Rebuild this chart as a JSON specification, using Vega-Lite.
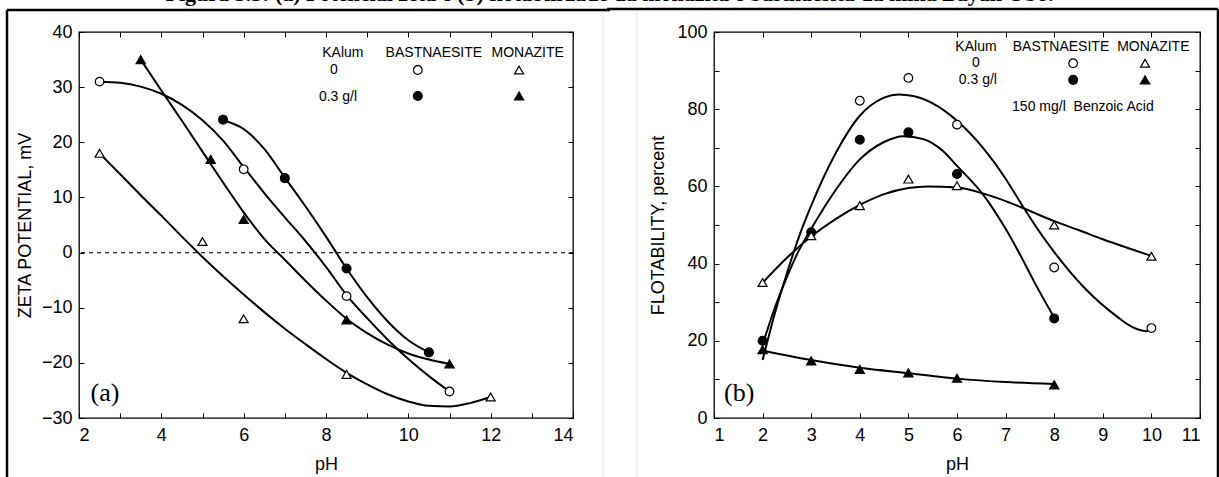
{
  "$schema": "https://vega.github.io/schema/vega-lite/v6.json",
  "autosize": {"type": "none"},
  "padding": {"left": 79, "top": 32, "right": 1140, "bottom": 445},
  "spacing": -7,
  "title": {
    "text": "Figura 3.5: (a) Potencial zeta e (b) flotabilidade da monazita e bastnaesita da mina Bayan Obo.",
    "frame": "bounds", "anchor": "middle", "font": "Liberation Serif", "fontSize": 22,
    "fontWeight": "bold", "baseline": "bottom", "offset": 0, "dy": 21, "dx": -3, "color": "#000"
  },
  "config": {
    "view": {"stroke": "#000", "strokeWidth": 1.3},
    "axis": {
      "labelFont": "Liberation Sans", "labelFontSize": 18, "labelColor": "#000",
      "titleFont": "Liberation Sans", "titleFontSize": 18, "titleFontWeight": "normal", "titleColor": "#000",
      "tickColor": "#000", "tickWidth": 1, "tickSize": -5, "grid": false, "domain": false
    },
    "text": {"font": "Liberation Sans", "fontSize": 14, "color": "#000"},
    "line": {"color": "#000", "strokeWidth": 2},
    "rule": {"color": "#000"}
  },
  "datasets": {
    "one": [{}],
    "a_pts": [
      {"pH": 2.5, "v": 31, "s": "B0"}, {"pH": 6, "v": 15.1, "s": "B0"}, {"pH": 8.5, "v": -7.9, "s": "B0"}, {"pH": 11, "v": -25.2, "s": "B0"},
      {"pH": 5.5, "v": 24.1, "s": "B03"}, {"pH": 7, "v": 13.5, "s": "B03"}, {"pH": 8.5, "v": -2.9, "s": "B03"}, {"pH": 10.5, "v": -18.1, "s": "B03"},
      {"pH": 2.5, "v": 18, "s": "M0"}, {"pH": 5, "v": 2, "s": "M0"}, {"pH": 6, "v": -12, "s": "M0"}, {"pH": 8.5, "v": -22.1, "s": "M0"}, {"pH": 12, "v": -26.2, "s": "M0"},
      {"pH": 3.5, "v": 35, "s": "M03"}, {"pH": 5.2, "v": 16.9, "s": "M03"}, {"pH": 6, "v": 6, "s": "M03"}, {"pH": 8.5, "v": -12.2, "s": "M03"}, {"pH": 11, "v": -20.2, "s": "M03"}
    ],
    "a_curves": [
      {"pH": 2.5, "v": 31.0, "s": "B0"}, {"pH": 3, "v": 30.8, "s": "B0"}, {"pH": 3.5, "v": 30.1, "s": "B0"}, {"pH": 4, "v": 28.8, "s": "B0"}, {"pH": 4.5, "v": 26.8, "s": "B0"}, {"pH": 5, "v": 24.0, "s": "B0"}, {"pH": 5.5, "v": 20.3, "s": "B0"}, {"pH": 6, "v": 15.5, "s": "B0"}, {"pH": 6.5, "v": 10.8, "s": "B0"}, {"pH": 7, "v": 6.4, "s": "B0"}, {"pH": 7.5, "v": 2.1, "s": "B0"}, {"pH": 8, "v": -2.6, "s": "B0"}, {"pH": 8.5, "v": -7.7, "s": "B0"}, {"pH": 9, "v": -11.9, "s": "B0"}, {"pH": 9.5, "v": -15.8, "s": "B0"}, {"pH": 10, "v": -19.3, "s": "B0"}, {"pH": 10.5, "v": -22.4, "s": "B0"}, {"pH": 11, "v": -25.2, "s": "B0"},
      {"pH": 5.5, "v": 24.0, "s": "B03"}, {"pH": 6, "v": 22.4, "s": "B03"}, {"pH": 6.5, "v": 18.8, "s": "B03"}, {"pH": 7, "v": 13.6, "s": "B03"}, {"pH": 7.5, "v": 8.4, "s": "B03"}, {"pH": 8, "v": 2.9, "s": "B03"}, {"pH": 8.5, "v": -2.9, "s": "B03"}, {"pH": 9, "v": -8.1, "s": "B03"}, {"pH": 9.5, "v": -12.5, "s": "B03"}, {"pH": 10, "v": -15.9, "s": "B03"}, {"pH": 10.5, "v": -18.1, "s": "B03"},
      {"pH": 2.5, "v": 18, "s": "M0"}, {"pH": 3, "v": 14.2, "s": "M0"}, {"pH": 3.5, "v": 10.4, "s": "M0"}, {"pH": 4, "v": 6.7, "s": "M0"}, {"pH": 4.5, "v": 2.9, "s": "M0"}, {"pH": 5, "v": -0.8, "s": "M0"}, {"pH": 5.5, "v": -4.3, "s": "M0"}, {"pH": 6, "v": -7.6, "s": "M0"}, {"pH": 6.5, "v": -10.8, "s": "M0"}, {"pH": 7, "v": -13.8, "s": "M0"}, {"pH": 7.5, "v": -16.6, "s": "M0"}, {"pH": 8, "v": -19.3, "s": "M0"}, {"pH": 8.5, "v": -21.8, "s": "M0"}, {"pH": 9, "v": -23.9, "s": "M0"}, {"pH": 9.5, "v": -25.7, "s": "M0"}, {"pH": 10, "v": -27.0, "s": "M0"}, {"pH": 10.5, "v": -27.8, "s": "M0"}, {"pH": 11, "v": -27.9, "s": "M0"}, {"pH": 11.5, "v": -27.3, "s": "M0"}, {"pH": 12, "v": -26.2, "s": "M0"},
      {"pH": 3.5, "v": 35, "s": "M03"}, {"pH": 4, "v": 29.4, "s": "M03"}, {"pH": 4.5, "v": 23.9, "s": "M03"}, {"pH": 5, "v": 18.3, "s": "M03"}, {"pH": 5.5, "v": 12.7, "s": "M03"}, {"pH": 6, "v": 7.3, "s": "M03"}, {"pH": 6.5, "v": 2.5, "s": "M03"}, {"pH": 7, "v": -1.3, "s": "M03"}, {"pH": 7.5, "v": -5.1, "s": "M03"}, {"pH": 8, "v": -8.7, "s": "M03"}, {"pH": 8.5, "v": -12.0, "s": "M03"}, {"pH": 9, "v": -14.6, "s": "M03"}, {"pH": 9.5, "v": -16.7, "s": "M03"}, {"pH": 10, "v": -18.3, "s": "M03"}, {"pH": 10.5, "v": -19.4, "s": "M03"}, {"pH": 11, "v": -20.2, "s": "M03"}
    ],
    "a_legsym": [
      {"pH": 10.23, "v": 33.1, "s": "B0"}, {"pH": 10.23, "v": 28.4, "s": "B03"},
      {"pH": 12.69, "v": 33.1, "s": "M0"}, {"pH": 12.69, "v": 28.4, "s": "M03"}
    ],
    "a_legtxt": [
      {"pH": 8.41, "v": 36.2, "t": "KAlum"}, {"pH": 8.19, "v": 33.1, "t": "0"}, {"pH": 8.29, "v": 28.3, "t": "0.3 g/l"},
      {"pH": 10.62, "v": 36.2, "t": "BASTNAESITE"}, {"pH": 12.9, "v": 36.2, "t": "MONAZITE"}
    ],
    "a_lab": [{"pH": 2.63, "v": -25.5, "t": "(a)"}],
    "b_pts": [
      {"pH": 4, "v": 82.2, "s": "B0"}, {"pH": 5, "v": 88.1, "s": "B0"}, {"pH": 6, "v": 76, "s": "B0"}, {"pH": 8, "v": 39, "s": "B0"}, {"pH": 10, "v": 23.3, "s": "B0"},
      {"pH": 2, "v": 20, "s": "B03"}, {"pH": 3, "v": 48.1, "s": "B03"}, {"pH": 4, "v": 72.1, "s": "B03"}, {"pH": 5, "v": 74, "s": "B03"}, {"pH": 6, "v": 63.2, "s": "B03"}, {"pH": 8, "v": 25.8, "s": "B03"},
      {"pH": 2, "v": 35.1, "s": "M0"}, {"pH": 3, "v": 47.2, "s": "M0"}, {"pH": 4, "v": 55, "s": "M0"}, {"pH": 5, "v": 61.9, "s": "M0"}, {"pH": 6, "v": 60.2, "s": "M0"}, {"pH": 8, "v": 50, "s": "M0"}, {"pH": 10, "v": 41.9, "s": "M0"},
      {"pH": 2, "v": 17.7, "s": "M03"}, {"pH": 3, "v": 14.8, "s": "M03"}, {"pH": 4, "v": 12.6, "s": "M03"}, {"pH": 5, "v": 11.7, "s": "M03"}, {"pH": 6, "v": 10.3, "s": "M03"}, {"pH": 8, "v": 8.6, "s": "M03"}
    ],
    "b_curves": [
      {"pH": 2, "v": 15, "s": "B0"}, {"pH": 2.25, "v": 27, "s": "B0"}, {"pH": 2.5, "v": 37.5, "s": "B0"}, {"pH": 2.75, "v": 47, "s": "B0"}, {"pH": 3, "v": 55, "s": "B0"}, {"pH": 3.5, "v": 68.5, "s": "B0"}, {"pH": 4, "v": 78.3, "s": "B0"}, {"pH": 4.5, "v": 83, "s": "B0"}, {"pH": 4.8, "v": 83.8, "s": "B0"}, {"pH": 5.1, "v": 83.4, "s": "B0"}, {"pH": 5.5, "v": 81.5, "s": "B0"}, {"pH": 6, "v": 77, "s": "B0"}, {"pH": 6.5, "v": 70.5, "s": "B0"}, {"pH": 7, "v": 62, "s": "B0"}, {"pH": 7.32, "v": 55.5, "s": "B0"}, {"pH": 7.64, "v": 49.3, "s": "B0"}, {"pH": 8, "v": 43, "s": "B0"}, {"pH": 8.6, "v": 34, "s": "B0"}, {"pH": 9.3, "v": 26.2, "s": "B0"}, {"pH": 9.6, "v": 23.6, "s": "B0"}, {"pH": 9.9, "v": 22.5, "s": "B0"}, {"pH": 10, "v": 23.3, "s": "B0"},
      {"pH": 2, "v": 19, "s": "B03"}, {"pH": 2.25, "v": 28.5, "s": "B03"}, {"pH": 2.5, "v": 36.5, "s": "B03"}, {"pH": 2.75, "v": 43.5, "s": "B03"}, {"pH": 3, "v": 49, "s": "B03"}, {"pH": 3.5, "v": 59, "s": "B03"}, {"pH": 4, "v": 67, "s": "B03"}, {"pH": 4.5, "v": 71.5, "s": "B03"}, {"pH": 4.9, "v": 73, "s": "B03"}, {"pH": 5.3, "v": 72.3, "s": "B03"}, {"pH": 5.7, "v": 69.3, "s": "B03"}, {"pH": 6, "v": 65.3, "s": "B03"}, {"pH": 6.53, "v": 58, "s": "B03"}, {"pH": 7, "v": 49, "s": "B03"}, {"pH": 7.32, "v": 41.8, "s": "B03"}, {"pH": 7.6, "v": 35, "s": "B03"}, {"pH": 8, "v": 26, "s": "B03"},
      {"pH": 2, "v": 35, "s": "M0"}, {"pH": 2.5, "v": 41.5, "s": "M0"}, {"pH": 3, "v": 47, "s": "M0"}, {"pH": 3.5, "v": 51.5, "s": "M0"}, {"pH": 4, "v": 55.2, "s": "M0"}, {"pH": 4.5, "v": 58, "s": "M0"}, {"pH": 5, "v": 59.6, "s": "M0"}, {"pH": 5.4, "v": 60, "s": "M0"}, {"pH": 6, "v": 59.7, "s": "M0"}, {"pH": 6.53, "v": 58.2, "s": "M0"}, {"pH": 7, "v": 56.2, "s": "M0"}, {"pH": 7.32, "v": 54.6, "s": "M0"}, {"pH": 8, "v": 51, "s": "M0"}, {"pH": 8.5, "v": 48.7, "s": "M0"}, {"pH": 9, "v": 46.3, "s": "M0"}, {"pH": 9.5, "v": 44.1, "s": "M0"}, {"pH": 10, "v": 42, "s": "M0"},
      {"pH": 2, "v": 17.5, "s": "M03"}, {"pH": 3, "v": 15, "s": "M03"}, {"pH": 4, "v": 13, "s": "M03"}, {"pH": 5, "v": 11.6, "s": "M03"}, {"pH": 6, "v": 10.2, "s": "M03"}, {"pH": 7, "v": 9.3, "s": "M03"}, {"pH": 8, "v": 8.8, "s": "M03"}
    ],
    "b_legsym": [
      {"pH": 8.39, "v": 91.9, "s": "B0"}, {"pH": 8.39, "v": 87.6, "s": "B03"},
      {"pH": 9.87, "v": 91.9, "s": "M0"}, {"pH": 9.87, "v": 87.6, "s": "M03"}
    ],
    "b_legtxt": [
      {"pH": 6.39, "v": 96.0, "t": "KAlum"}, {"pH": 6.39, "v": 91.9, "t": "0"}, {"pH": 6.43, "v": 87.6, "t": "0.3 g/l"},
      {"pH": 8.14, "v": 96.0, "t": "BASTNAESITE"}, {"pH": 10.04, "v": 96.0, "t": "MONAZITE"},
      {"pH": 8.59, "v": 80.5, "t": "150 mg/l\u00a0 Benzoic Acid"}
    ],
    "b_lab": [{"pH": 1.52, "v": 6.6, "t": "(b)"}]
  },
  "hconcat": [
    {
      "width": 494, "height": 386,
      "resolve": {"axis": {"x": "independent", "y": "independent"}},
      "layer": [
        {"data": {"name": "one"}, "mark": {"type": "rule", "strokeWidth": 2.5},
         "encoding": {"x": {"datum": 0.251, "type": "quantitative", "scale": {"domain": [2, 14], "nice": false, "zero": false}, "axis": null},
                      "y": {"datum": 43.99, "type": "quantitative", "scale": {"domain": [-30, 40], "nice": false, "zero": false}, "axis": null},
                      "y2": {"datum": -47}}},
        {"data": {"name": "one"}, "mark": {"type": "rule", "strokeWidth": 2.5},
         "encoding": {"x": {"datum": 0.251, "type": "quantitative", "scale": {"domain": [2, 14], "nice": false, "zero": false}, "axis": null},
                      "x2": {"datum": 14.9},
                      "y": {"datum": 43.99, "type": "quantitative", "scale": {"domain": [-30, 40], "nice": false, "zero": false}, "axis": null}}},
        {"data": {"name": "one"}, "mark": {"type": "rule", "strokeWidth": 1, "color": "#e6e6e6"},
         "encoding": {"x": {"datum": 14.73, "type": "quantitative", "scale": {"domain": [2, 14], "nice": false, "zero": false}, "axis": null},
                      "y": {"datum": 43.6, "type": "quantitative", "scale": {"domain": [-30, 40], "nice": false, "zero": false}, "axis": null},
                      "y2": {"datum": -47}}},
        {"data": {"name": "one"}, "mark": {"type": "rule", "strokeWidth": 1.3, "strokeDash": [4, 4], "color": "#222"},
         "encoding": {"y": {"datum": 0, "type": "quantitative", "scale": {"domain": [-30, 40], "nice": false, "zero": false}, "axis": null}}},
        {"data": {"name": "a_curves"},
         "mark": {"type": "line", "interpolate": "monotone", "strokeWidth": 2, "color": "#000"},
         "encoding": {
           "x": {"field": "pH", "type": "quantitative", "scale": {"domain": [2, 14], "nice": false, "zero": false},
                 "axis": {"orient": "bottom", "values": [2, 3, 4, 5, 6, 7, 8, 9, 10, 11, 12, 13, 14], "labelExpr": "datum.value % 2 == 0 ? datum.label : ''", "labelPadding": 13, "title": "pH", "titlePadding": 11}},
           "y": {"field": "v", "type": "quantitative", "scale": {"domain": [-30, 40], "nice": false, "zero": false},
                 "axis": {"orient": "left", "values": [-30, -20, -10, 0, 10, 20, 30, 40], "labelPadding": 12, "title": "ZETA POTENTIAL, mV", "titlePadding": 7}},
           "detail": {"field": "s", "type": "nominal"}
         }},
        {"data": {"name": "a_pts"},
         "mark": {"type": "point", "stroke": "#000", "strokeWidth": 1.2, "opacity": 1, "fillOpacity": 1},
         "encoding": {
           "x": {"field": "pH", "type": "quantitative", "scale": {"domain": [2, 14], "nice": false, "zero": false}, "axis": null},
           "y": {"field": "v", "type": "quantitative", "scale": {"domain": [-30, 40], "nice": false, "zero": false}, "axis": null},
           "shape": {"field": "s", "type": "nominal", "scale": {"domain": ["B0", "B03", "M0", "M03"], "range": ["circle", "circle", "triangle-up", "triangle-up"]}, "legend": null},
           "fill": {"field": "s", "type": "nominal", "scale": {"domain": ["B0", "B03", "M0", "M03"], "range": ["#ffffff", "#000000", "#ffffff", "#000000"]}, "legend": null},
           "size": {"field": "s", "type": "ordinal", "scale": {"domain": ["B0", "B03", "M0", "M03"], "range": [75, 85, 55, 85]}, "legend": null}
         }},
        {"data": {"name": "a_legsym"},
         "mark": {"type": "point", "stroke": "#000", "strokeWidth": 1.2, "opacity": 1, "fillOpacity": 1},
         "encoding": {
           "x": {"field": "pH", "type": "quantitative", "scale": {"domain": [2, 14], "nice": false, "zero": false}, "axis": null},
           "y": {"field": "v", "type": "quantitative", "scale": {"domain": [-30, 40], "nice": false, "zero": false}, "axis": null},
           "shape": {"field": "s", "type": "nominal", "scale": {"domain": ["B0", "B03", "M0", "M03"], "range": ["circle", "circle", "triangle-up", "triangle-up"]}, "legend": null},
           "fill": {"field": "s", "type": "nominal", "scale": {"domain": ["B0", "B03", "M0", "M03"], "range": ["#ffffff", "#000000", "#ffffff", "#000000"]}, "legend": null},
           "size": {"field": "s", "type": "ordinal", "scale": {"domain": ["B0", "B03", "M0", "M03"], "range": [75, 85, 55, 85]}, "legend": null}
         }},
        {"data": {"name": "a_legtxt"},
         "mark": {"type": "text", "align": "center", "baseline": "middle", "fontSize": 14, "font": "Liberation Sans", "color": "#000"},
         "encoding": {
           "x": {"field": "pH", "type": "quantitative", "scale": {"domain": [2, 14], "nice": false, "zero": false}, "axis": null},
           "y": {"field": "v", "type": "quantitative", "scale": {"domain": [-30, 40], "nice": false, "zero": false}, "axis": null},
           "text": {"field": "t"}
         }},
        {"data": {"name": "a_lab"},
         "mark": {"type": "text", "align": "center", "baseline": "middle", "fontSize": 26, "font": "Liberation Serif", "color": "#000"},
         "encoding": {
           "x": {"field": "pH", "type": "quantitative", "scale": {"domain": [2, 14], "nice": false, "zero": false}, "axis": null},
           "y": {"field": "v", "type": "quantitative", "scale": {"domain": [-30, 40], "nice": false, "zero": false}, "axis": null},
           "text": {"field": "t"}
         }},
        {"data": {"name": "a_pts"},
         "mark": {"type": "point", "opacity": 0},
         "encoding": {
           "x": {"field": "pH", "type": "quantitative", "scale": {"domain": [2, 14], "nice": false, "zero": false},
                 "axis": {"orient": "top", "values": [2, 3, 4, 5, 6, 7, 8, 9, 10, 11, 12, 13, 14], "labels": false, "title": null}},
           "y": {"field": "v", "type": "quantitative", "scale": {"domain": [-30, 40], "nice": false, "zero": false},
                 "axis": {"orient": "right", "values": [-30, -20, -10, 0, 10, 20, 30, 40], "labels": false, "title": null}}
         }}
      ]
    },
    {
      "width": 486, "height": 386,
      "resolve": {"axis": {"x": "independent", "y": "independent"}},
      "layer": [
        {"data": {"name": "one"}, "mark": {"type": "rule", "strokeWidth": 2.5},
         "encoding": {"x": {"datum": -1.2, "type": "quantitative", "scale": {"domain": [1, 11], "nice": false, "zero": false}, "axis": null},
                      "x2": {"datum": 11.37},
                      "y": {"datum": 105.96, "type": "quantitative", "scale": {"domain": [0, 100], "nice": false, "zero": false}, "axis": null}}},
        {"data": {"name": "one"}, "mark": {"type": "rule", "strokeWidth": 2.5},
         "encoding": {"x": {"datum": 11.37, "type": "quantitative", "scale": {"domain": [1, 11], "nice": false, "zero": false}, "axis": null},
                      "y": {"datum": 105.96, "type": "quantitative", "scale": {"domain": [0, 100], "nice": false, "zero": false}, "axis": null},
                      "y2": {"datum": -25}}},
        {"data": {"name": "one"}, "mark": {"type": "rule", "strokeWidth": 1, "color": "#e6e6e6"},
         "encoding": {"x": {"datum": -0.584, "type": "quantitative", "scale": {"domain": [1, 11], "nice": false, "zero": false}, "axis": null},
                      "y": {"datum": 105.4, "type": "quantitative", "scale": {"domain": [0, 100], "nice": false, "zero": false}, "axis": null},
                      "y2": {"datum": -25}}},
        {"data": {"name": "b_curves"},
         "mark": {"type": "line", "interpolate": "monotone", "strokeWidth": 2, "color": "#000"},
         "encoding": {
           "x": {"field": "pH", "type": "quantitative", "scale": {"domain": [1, 11], "nice": false, "zero": false},
                 "axis": {"orient": "bottom", "values": [1, 2, 3, 4, 5, 6, 7, 8, 9, 10, 11], "labelPadding": 13, "title": "pH", "titlePadding": 11}},
           "y": {"field": "v", "type": "quantitative", "scale": {"domain": [0, 100], "nice": false, "zero": false},
                 "axis": {"orient": "left", "values": [0, 10, 20, 30, 40, 50, 60, 70, 80, 90, 100], "labelExpr": "datum.value % 20 == 0 ? datum.label : ''", "labelPadding": 12, "title": "FLOTABILITY, percent", "titlePadding": 9}},
           "detail": {"field": "s", "type": "nominal"}
         }},
        {"data": {"name": "b_pts"},
         "mark": {"type": "point", "stroke": "#000", "strokeWidth": 1.2, "opacity": 1, "fillOpacity": 1},
         "encoding": {
           "x": {"field": "pH", "type": "quantitative", "scale": {"domain": [1, 11], "nice": false, "zero": false}, "axis": null},
           "y": {"field": "v", "type": "quantitative", "scale": {"domain": [0, 100], "nice": false, "zero": false}, "axis": null},
           "shape": {"field": "s", "type": "nominal", "scale": {"domain": ["B0", "B03", "M0", "M03"], "range": ["circle", "circle", "triangle-up", "triangle-up"]}, "legend": null},
           "fill": {"field": "s", "type": "nominal", "scale": {"domain": ["B0", "B03", "M0", "M03"], "range": ["#ffffff", "#000000", "#ffffff", "#000000"]}, "legend": null},
           "size": {"field": "s", "type": "ordinal", "scale": {"domain": ["B0", "B03", "M0", "M03"], "range": [75, 85, 55, 85]}, "legend": null}
         }},
        {"data": {"name": "b_legsym"},
         "mark": {"type": "point", "stroke": "#000", "strokeWidth": 1.2, "opacity": 1, "fillOpacity": 1},
         "encoding": {
           "x": {"field": "pH", "type": "quantitative", "scale": {"domain": [1, 11], "nice": false, "zero": false}, "axis": null},
           "y": {"field": "v", "type": "quantitative", "scale": {"domain": [0, 100], "nice": false, "zero": false}, "axis": null},
           "shape": {"field": "s", "type": "nominal", "scale": {"domain": ["B0", "B03", "M0", "M03"], "range": ["circle", "circle", "triangle-up", "triangle-up"]}, "legend": null},
           "fill": {"field": "s", "type": "nominal", "scale": {"domain": ["B0", "B03", "M0", "M03"], "range": ["#ffffff", "#000000", "#ffffff", "#000000"]}, "legend": null},
           "size": {"field": "s", "type": "ordinal", "scale": {"domain": ["B0", "B03", "M0", "M03"], "range": [75, 85, 55, 85]}, "legend": null}
         }},
        {"data": {"name": "b_legtxt"},
         "mark": {"type": "text", "align": "center", "baseline": "middle", "fontSize": 14, "font": "Liberation Sans", "color": "#000"},
         "encoding": {
           "x": {"field": "pH", "type": "quantitative", "scale": {"domain": [1, 11], "nice": false, "zero": false}, "axis": null},
           "y": {"field": "v", "type": "quantitative", "scale": {"domain": [0, 100], "nice": false, "zero": false}, "axis": null},
           "text": {"field": "t"}
         }},
        {"data": {"name": "b_lab"},
         "mark": {"type": "text", "align": "center", "baseline": "middle", "fontSize": 26, "font": "Liberation Serif", "color": "#000"},
         "encoding": {
           "x": {"field": "pH", "type": "quantitative", "scale": {"domain": [1, 11], "nice": false, "zero": false}, "axis": null},
           "y": {"field": "v", "type": "quantitative", "scale": {"domain": [0, 100], "nice": false, "zero": false}, "axis": null},
           "text": {"field": "t"}
         }},
        {"data": {"name": "b_pts"},
         "mark": {"type": "point", "opacity": 0},
         "encoding": {
           "x": {"field": "pH", "type": "quantitative", "scale": {"domain": [1, 11], "nice": false, "zero": false},
                 "axis": {"orient": "top", "values": [1, 2, 3, 4, 5, 6, 7, 8, 9, 10, 11], "labels": false, "title": null}},
           "y": {"field": "v", "type": "quantitative", "scale": {"domain": [0, 100], "nice": false, "zero": false},
                 "axis": {"orient": "right", "values": [0, 10, 20, 30, 40, 50, 60, 70, 80, 90, 100], "labels": false, "title": null}}
         }}
      ]
    }
  ]
}
